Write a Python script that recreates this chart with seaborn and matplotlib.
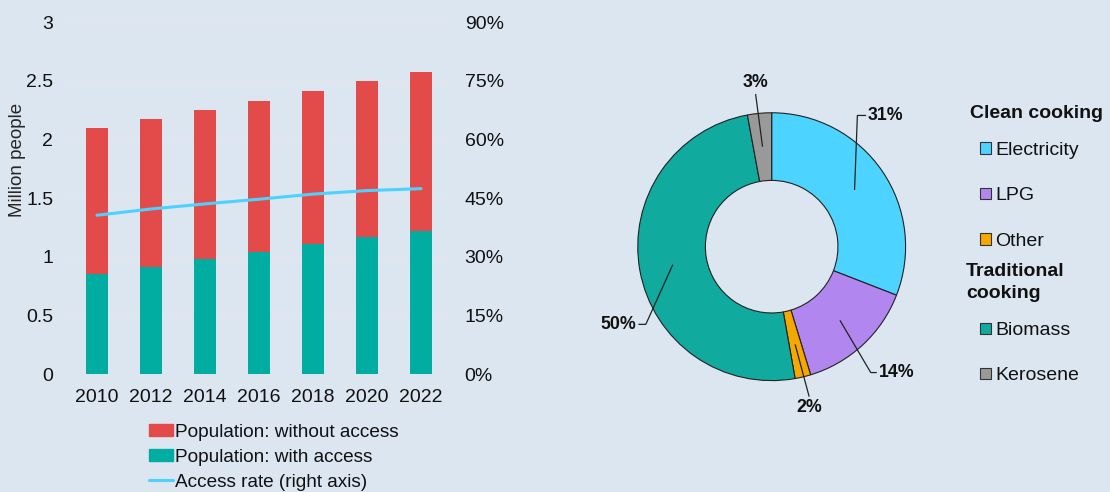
import numpy as np
import pandas as pd
import matplotlib
matplotlib.use('Agg')
import matplotlib.pyplot as plt
import seaborn as sns
from matplotlib.patches import Patch
from matplotlib.lines import Line2D
from matplotlib.ticker import FuncFormatter, MultipleLocator

# data
years = ['2010', '2012', '2014', '2016', '2018', '2020', '2022']
pop_total = [2.10, 2.17, 2.25, 2.33, 2.41, 2.495, 2.575]
pop_with_access = [0.85, 0.915, 0.98, 1.04, 1.105, 1.168, 1.22]
access_rate = [40.6, 42.2, 43.5, 44.7, 46.0, 46.9, 47.4]

fuels = ['Electricity', 'LPG', 'Other', 'Biomass', 'Kerosene']
fuel_share = [30.9, 14.4, 1.9, 49.9, 2.9]
clean_fuels = ['Electricity', 'LPG', 'Other']
traditional_fuels = ['Biomass', 'Kerosene']

BG = '#dce6f0'
RED = '#e34b4a'
TEAL = '#00ada0'
CYAN = '#4dd2ff'
fuel_colors = {'Electricity': '#4dd3ff', 'LPG': '#b286ef', 'Other': '#f5a800',
               'Biomass': '#10aa9e', 'Kerosene': '#999999'}

sns.set_theme(style='white')
plt.rcParams['font.family'] = ['Liberation Sans', 'DejaVu Sans']
plt.rcParams['text.color'] = '#111111'
plt.rcParams['xtick.color'] = '#111111'
plt.rcParams['ytick.color'] = '#111111'

fig = plt.figure(figsize=(11.1, 4.92), dpi=100, facecolor=BG)

# ---- left panel: stacked bars + access rate ----
ax = fig.add_axes([0.0631, 0.2398, 0.3405, 0.7154])
ax.set_facecolor(BG)
df = pd.DataFrame({'year': years, 'total': pop_total, 'with': pop_with_access})
sns.barplot(data=df, x='year', y='total', color=RED, width=0.4,
            saturation=1, linewidth=0, ax=ax)
sns.barplot(data=df, x='year', y='with', color=TEAL, width=0.4,
            saturation=1, linewidth=0, ax=ax)
ax.set_xlim(-0.5, len(years) - 0.5)
ax.set_ylim(0, 3)
ax.yaxis.set_major_locator(MultipleLocator(0.5))
ax.yaxis.set_major_formatter(FuncFormatter(lambda v, p: f'{v:g}'))
ax.grid(axis='y', color='#e6e6ea', linewidth=1)
ax.set_axisbelow(True)
ax.set_xlabel('')
ax.set_ylabel('Million people', fontsize=13.5)
ax.yaxis.set_label_coords(-0.116, 0.608)
ax.tick_params(axis='x', labelsize=14, pad=11, length=0)
ax.tick_params(axis='y', labelsize=14, pad=12, length=0)
sns.despine(ax=ax, left=True, bottom=True)

ax2 = ax.twinx()
sns.lineplot(x=np.arange(len(years)), y=access_rate, color=CYAN,
             linewidth=2.2, ax=ax2)
ax2.set_ylim(0, 90)
ax2.yaxis.set_major_locator(MultipleLocator(15))
ax2.yaxis.set_major_formatter(FuncFormatter(lambda v, p: f'{v:.0f}%'))
ax2.tick_params(axis='y', labelsize=14, pad=12, length=0)
ax2.set_xlim(-0.5, len(years) - 0.5)
for s in ax2.spines.values():
    s.set_visible(False)

handles = [Patch(color=RED, label='Population: without access'),
           Patch(color=TEAL, label='Population: with access'),
           Line2D([0], [0], color=CYAN, lw=2.2, label='Access rate (right axis)')]
fig.legend(handles=handles, loc='upper left', bbox_to_anchor=(0.134, 0.139),
           frameon=False, fontsize=13.7, handlelength=1.25, handleheight=0.65,
           handletextpad=0.15, labelspacing=0.42, borderpad=0, borderaxespad=0)

# ---- right panel: donut ----
pax = fig.add_axes([0.5263, 0.1175, 0.3378, 0.7622])
pax.set_facecolor(BG)
wedges, _ = pax.pie(fuel_share, colors=[fuel_colors[f] for f in fuels],
                    startangle=90, counterclock=False, radius=1,
                    wedgeprops=dict(width=0.505, edgecolor='#222222', linewidth=0.8))
pax.set_xlim(-1.4, 1.4)
pax.set_ylim(-1.4, 1.4)
pax.set_aspect('equal')
pax.axis('off')

# label placement per slice: (elbow point, text point, ha, va)
label_pos = {
    'Electricity': ((0.64, 0.98), (0.72, 0.98), 'left', 'center'),
    'LPG': ((0.74, -0.94), (0.80, -0.94), 'left', 'center'),
    'Other': ((0.28, -1.12), (0.28, -1.14), 'center', 'top'),
    'Biomass': ((-0.94, -0.58), (-1.01, -0.58), 'right', 'center'),
    'Kerosene': ((-0.12, 1.14), (-0.12, 1.16), 'center', 'bottom'),
}
for w, name, val in zip(wedges, fuels, fuel_share):
    mid = np.deg2rad((w.theta1 + w.theta2) / 2)
    ax_pt = (0.75 * np.cos(mid), 0.75 * np.sin(mid))
    elbow, txt, ha, va = label_pos[name]
    xs = [ax_pt[0], elbow[0]]
    ys = [ax_pt[1], elbow[1]]
    if ha in ('left', 'right'):
        xs.append(txt[0] - (0.015 if ha == 'left' else -0.015))
        ys.append(txt[1])
    pax.plot(xs, ys, color='#222222', lw=0.9, solid_capstyle='butt')
    pax.text(txt[0], txt[1], f'{val:.0f}%', ha=ha, va=va,
             fontsize=12.8, fontweight='bold')

# grouped legend: bold group headers as text, items as legends
fig.text(0.8739, 0.7683, 'Clean cooking', fontsize=14, fontweight='bold',
         ha='left', va='center')
fig.text(0.8703, 0.4258, 'Traditional\ncooking', fontsize=14, fontweight='bold',
         ha='left', va='center', linespacing=1.35)
leg_kw = dict(frameon=False, fontsize=14, handlelength=0.55, handleheight=0.55,
              handletextpad=0.25, labelspacing=1.45, borderpad=0, borderaxespad=0)
clean_h = [Patch(facecolor=fuel_colors[f], edgecolor='#333333', lw=0.8, label=f)
           for f in clean_fuels]
trad_h = [Patch(facecolor=fuel_colors[f], edgecolor='#333333', lw=0.8, label=f)
          for f in traditional_fuels]
fig.legend(handles=clean_h, loc='upper left', bbox_to_anchor=(0.8829, 0.711), **leg_kw)
fig.legend(handles=trad_h, loc='upper left', bbox_to_anchor=(0.8829, 0.345), **leg_kw)

fig.savefig('out.png', dpi=100, facecolor=BG)
